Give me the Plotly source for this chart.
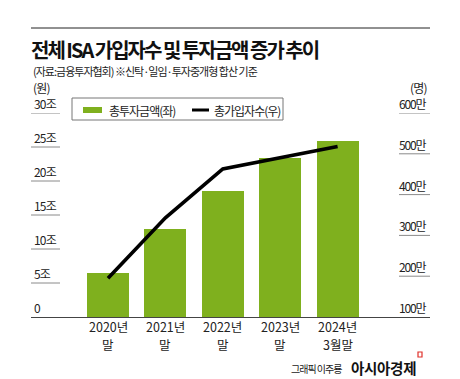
import plotly.graph_objects as go

# The page body has an 8px margin, so the figure is drawn 8px smaller and all
# reference pixel positions are shifted by that offset.
REF_W, REF_H = 460, 379
OFF = 8
W, H = REF_W - OFF, REF_H - OFF

cat_line1 = ["2020년", "2021년", "2022년", "2023년", "2024년"]
cat_line2 = ["말", "말", "말", "말", "3월말"]
invest_tril = [6.4, 12.9, 18.5, 23.4, 25.9]          # 총투자금액 (조 원)
members_10k = [195, 343, 463, 490, 518]             # 총가입자수 (만 명)
left_ticks = [0, 5, 10, 15, 20, 25, 30]
left_labels = ["0", "5조", "10조", "15조", "20조", "25조", "30조"]
right_ticks = [100, 200, 300, 400, 500, 600]
right_labels = ["100만", "200만", "300만", "400만", "500만", "600만"]

GREEN = "#7fb01e"
FONT = "Noto Sans CJK KR"

def px(x):
    return (x - OFF) / W

def py(y):
    return (REF_H - y) / H

def sp(t, ls):
    return f'<span style="letter-spacing:{ls}px">{t}</span>'

xs = list(range(len(cat_line1)))
step = 57.4
c0 = 108.0
x_range = [(31 - c0) / step, (430 - c0) / step]

fig = go.Figure()
fig.add_trace(go.Bar(
    x=xs, y=invest_tril, marker=dict(color=GREEN, line=dict(width=0)),
    width=0.73, name="총투자금액(좌)", yaxis="y", showlegend=False,
))
fig.add_trace(go.Scatter(
    x=xs, y=members_10k, mode="lines", line=dict(color="#000000", width=3.6),
    name="총가입자수(우)", yaxis="y2", showlegend=False,
))

shapes = []
annotations = []

# top rule
shapes.append(dict(type="line", xref="paper", yref="paper", x0=px(31), x1=px(430),
                   y0=py(28), y1=py(28), line=dict(color="#222", width=1)))

# category labels (two lines each)
for x, l1, l2 in zip(xs, cat_line1, cat_line2):
    annotations.append(dict(text=l1, xref="x", yref="paper", x=x, y=py(326.5),
                            xanchor="center", yanchor="middle", showarrow=False, borderpad=0,
                            font=dict(family=FONT, size=12.5, color="#222")))
    annotations.append(dict(text=l2, xref="x", yref="paper", x=x, y=py(344.7),
                            xanchor="center", yanchor="middle", showarrow=False, borderpad=0,
                            font=dict(family=FONT, size=12.5, color="#222")))

# left tick underlines + labels
for v, lab in zip(left_ticks, left_labels):
    if v != 0:
        shapes.append(dict(type="line", xref="paper", yref="y", x0=px(31), x1=px(60),
                           y0=v, y1=v, line=dict(color="#8a8a8a", width=1)))
    annotations.append(dict(text=sp(lab, -0.8), xref="paper", yref="y", x=px(33), y=v,
                            xanchor="left", yanchor="bottom", yshift=0, showarrow=False,
                            borderpad=0, font=dict(family=FONT, size=12, color="#222")))
# right tick underlines + labels
for v, lab in zip(right_ticks, right_labels):
    if v != 100:
        shapes.append(dict(type="line", xref="paper", yref="y2", x0=px(399), x1=px(430),
                           y0=v, y1=v, line=dict(color="#8a8a8a", width=1)))
    annotations.append(dict(text=sp(lab, -1.2), xref="paper", yref="y2", x=px(398), y=v,
                            xanchor="left", yanchor="bottom", yshift=0, showarrow=False,
                            borderpad=0, font=dict(family=FONT, size=12, color="#222")))

# units
annotations.append(dict(text=sp("(원)", -0.8), xref="paper", yref="paper", x=px(32), y=py(87.5),
                        xanchor="left", yanchor="middle", showarrow=False, borderpad=0,
                        font=dict(family=FONT, size=12, color="#222")))
annotations.append(dict(text=sp("(명)", -0.8), xref="paper", yref="paper", x=px(428), y=py(87),
                        xanchor="right", yanchor="middle", showarrow=False, borderpad=0,
                        font=dict(family=FONT, size=12, color="#222")))

# title & subtitle
annotations.append(dict(text="<b>" + sp("전체 ISA 가입자수 및 투자금액 증가 추이", -2) + "</b>",
                        xref="paper", yref="paper", x=px(29), y=py(49),
                        xanchor="left", yanchor="middle", showarrow=False,
                        font=dict(family=FONT, size=20, color="#111")))
annotations.append(dict(text=sp("(자료:금융투자협회) ※신탁·일임·투자중개형 합산 기준", -1),
                        xref="paper", yref="paper", x=px(31), y=py(71),
                        xanchor="left", yanchor="middle", showarrow=False,
                        font=dict(family=FONT, size=11, color="#222")))

# legend (manual)
shapes.append(dict(type="rect", xref="paper", yref="paper", x0=px(72), x1=px(283),
                   y0=py(98), y1=py(120), line=dict(color="#777", width=1), fillcolor="white",
                   layer="above"))
shapes.append(dict(type="rect", xref="paper", yref="paper", x0=px(83), x1=px(102),
                   y0=py(107), y1=py(113), line=dict(width=0), fillcolor=GREEN, layer="above"))
shapes.append(dict(type="line", xref="paper", yref="paper", x0=px(192), x1=px(209),
                   y0=py(110), y1=py(110), line=dict(color="#000", width=3), layer="above"))
annotations.append(dict(text=sp("총투자금액(좌)", -1), xref="paper", yref="paper", x=px(107), y=py(110),
                        xanchor="left", yanchor="middle", showarrow=False,
                        font=dict(family=FONT, size=12, color="#222")))
annotations.append(dict(text=sp("총가입자수(우)", -1), xref="paper", yref="paper", x=px(212), y=py(110),
                        xanchor="left", yanchor="middle", showarrow=False,
                        font=dict(family=FONT, size=12, color="#222")))

# footer
annotations.append(dict(text=sp("그래픽 이주룡", -1), xref="paper", yref="paper", x=px(344), y=py(368),
                        xanchor="right", yanchor="middle", showarrow=False,
                        font=dict(family=FONT, size=10, color="#222")))
annotations.append(dict(text="<b>" + sp("아시아경제", -0.3) + "</b>", xref="paper", yref="paper",
                        x=px(349), y=py(367), xanchor="left", yanchor="middle", showarrow=False,
                        font=dict(family=FONT, size=14.5, color="#111")))
shapes.append(dict(type="rect", xref="paper", yref="paper", x0=px(418), x1=px(422),
                   y0=py(352), y1=py(357), line=dict(color="#e0302a", width=1.2)))

fig.update_layout(
    width=W, height=H, margin=dict(l=0, r=0, t=0, b=0),
    paper_bgcolor="white", plot_bgcolor="white",
    shapes=shapes, annotations=annotations,
    bargap=0,
    xaxis=dict(domain=[px(31), px(430)], range=x_range, showticklabels=False,
               showgrid=False, zeroline=False,
               showline=True, linecolor="#444", linewidth=1, ticks=""),
    yaxis=dict(domain=[py(317), py(113)], range=[0, 30], showgrid=False, zeroline=False,
               showticklabels=False, ticks=""),
    yaxis2=dict(domain=[py(317), py(113)], range=[100, 600], overlaying="y", side="right",
                showgrid=False, zeroline=False, showticklabels=False, ticks=""),
)

fig.write_html("out.html")
